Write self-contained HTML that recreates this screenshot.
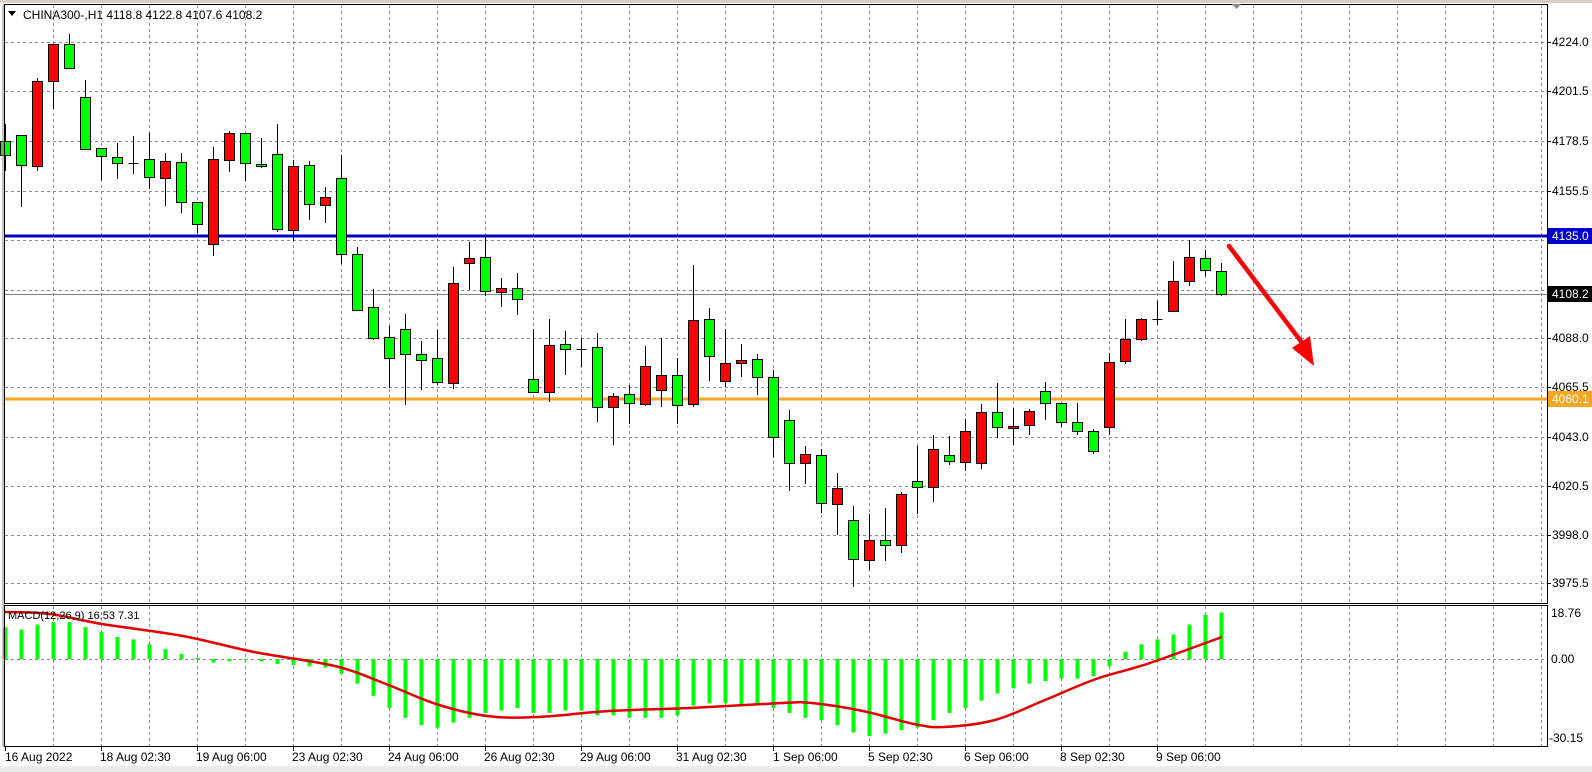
<!DOCTYPE html>
<html><head><meta charset="utf-8">
<style>
html,body{margin:0;padding:0;background:#fff;}
svg{display:block;font-family:"Liberation Sans",sans-serif;font-size:12px;}
</style></head>
<body>
<svg id="c" width="1592" height="772" viewBox="0 0 1592 772" xmlns="http://www.w3.org/2000/svg">
<rect x="0" y="0" width="1592" height="772" fill="#fff"/>
<rect x="0" y="0" width="1592" height="3" fill="#d4d0c8"/>
<rect x="0" y="766" width="1592" height="6" fill="#ececec"/>
<g id="grid" stroke="#8c8c8c" stroke-width="1" stroke-dasharray="3,3" fill="none"></g>
<g id="lines"></g>
<g id="candles"></g>
<g id="macd"></g>
<rect x="4.5" y="4.5" width="1543" height="599" fill="none" stroke="#000"/>
<rect x="4.5" y="605.5" width="1543" height="141" fill="none" stroke="#000"/>
<line x1="3" y1="4" x2="3" y2="747" stroke="#888"/>
<polygon points="8,11 16,11 12,16" fill="#000"/>
<text x="23" y="19" fill="#000">CHINA300-,H1  4118.8 4122.8 4107.6 4108.2</text>
<polygon points="1232,4 1241,4 1236.5,9" fill="#888"/>
<text x="8" y="619" fill="#000" font-size="11">MACD(12,26,9) 16.53 7.31</text>
<g fill="#000">
<text x="1552" y="46">4224.0</text>
<text x="1552" y="95">4201.5</text>
<text x="1552" y="145">4178.5</text>
<text x="1552" y="195">4155.5</text>
<text x="1552" y="342">4088.0</text>
<text x="1552" y="391">4065.5</text>
<text x="1552" y="441">4043.0</text>
<text x="1552" y="490">4020.5</text>
<text x="1552" y="539">3998.0</text>
<text x="1552" y="587">3975.5</text>
<text x="1551" y="617">18.76</text>
<text x="1551" y="663">0.00</text>
<text x="1549" y="742">-30.15</text>
</g>
<rect x="1548" y="228" width="44" height="16" fill="#0000c8"/>
<text x="1552" y="240" fill="#fff">4135.0</text>
<rect x="1548" y="286" width="44" height="16" fill="#000"/>
<text x="1552" y="298" fill="#fff">4108.2</text>
<rect x="1548" y="391" width="44" height="16" fill="#f5a623"/>
<text x="1552" y="403" fill="#fff">4060.1</text>
<g fill="#000">
<text x="5" y="761">16 Aug 2022</text>
<text x="100" y="761">18 Aug 02:30</text>
<text x="196" y="761">19 Aug 06:00</text>
<text x="292" y="761">23 Aug 02:30</text>
<text x="388" y="761">24 Aug 06:00</text>
<text x="484" y="761">26 Aug 02:30</text>
<text x="580" y="761">29 Aug 06:00</text>
<text x="676" y="761">31 Aug 02:30</text>
<text x="773" y="761">1 Sep 06:00</text>
<text x="868" y="761">5 Sep 02:30</text>
<text x="964" y="761">6 Sep 06:00</text>
<text x="1060" y="761">8 Sep 02:30</text>
<text x="1156" y="761">9 Sep 06:00</text>
</g>
<g id="ticks" stroke="#000"></g>
<line x1="1229" y1="246" x2="1306" y2="348" stroke="#f00" stroke-width="4.5" stroke-linecap="round"/>
<polygon points="1292,348 1314,366 1310,336" fill="#f00"/>
</svg>
<script>
var NS="http://www.w3.org/2000/svg";
function el(p,t,a){var e=document.createElementNS(NS,t);for(var k in a)e.setAttribute(k,a[k]);p.appendChild(e);return e;}
var g=document.getElementById('grid');
for(var k=1;k<=32;k++){var x=5+48*k+0.5;if(x>1546)break;el(g,'line',{x1:x,y1:5,x2:x,y2:603});el(g,'line',{x1:x,y1:606,x2:x,y2:746});}
[42,91,141,191,240,290,338,387,437,486,535,583].forEach(function(y){el(g,'line',{x1:5,y1:y+.5,x2:1547,y2:y+.5});el(g,'line',{x1:1547,y1:y+.5,x2:1551,y2:y+.5,'stroke-dasharray':'none',stroke:'#000'});});
el(g,'line',{x1:5,y1:659.5,x2:1547,y2:659.5});
var L=document.getElementById('lines');
el(L,'line',{x1:5,y1:294.5,x2:1547,y2:294.5,stroke:'#808080'});
el(L,'line',{x1:5,y1:236,x2:1547,y2:236,stroke:'#0000c8','stroke-width':3});
el(L,'line',{x1:5,y1:399,x2:1547,y2:399,stroke:'#f5a623','stroke-width':3});
var T=document.getElementById('ticks');
[5,101,197,293,389,485,581,677,773,869,965,1061,1157].forEach(function(x){el(T,'line',{x1:x+.5,y1:746,x2:x+.5,y2:751});});
var C=[
['G',141,155,124,171],['G',135,165,135,207],['R',81,166,78,171],['R',44,81,44,109],['G',44,68,34,68],
['G',97,149,80,149],['G',148,156,148,180],['G',157,163,143,179],['D',163,163,136,174],['G',159,177,133,189],
['R',161,178,153,206],['G',162,202,153,213],['G',202,224,202,233],['R',159,244,147,256],['R',133,160,131,172],
['G',133,163,133,181],['G',164,166,138,168],['G',154,229,124,232],['R',166,230,160,241],['G',165,204,161,220],
['R',197,205,187,223],['G',178,254,155,264],['G',254,310,247,311],['G',307,338,289,340],['G',337,358,326,388],
['G',329,354,314,405],['G',354,360,341,390],['G',358,382,330,385],['R',283,383,267,389],['R',258,263,242,290],
['G',257,291,236,296],['R',288,292,278,307],['G',288,299,273,315],['G',379,392,329,392],['R',345,392,319,402],
['G',344,349,331,375],['D',349,349,338,367],['G',347,407,333,422],['R',396,407,393,445],['G',394,403,385,424],
['R',366,404,346,406],['R',375,390,338,407],['G',375,405,358,424],['R',320,404,265,407],['G',319,356,308,381],
['R',363,381,329,387],['R',360,363,344,377],['G',359,377,354,395],['G',377,437,370,457],['G',420,463,410,491],
['R',454,463,446,484],['G',455,503,449,513],['R',488,504,473,535],['G',520,559,506,587],['R',540,560,514,570],
['G',540,545,508,561],['R',494,545,492,553],['G',481,487,446,514],['R',449,487,435,502],['G',455,461,436,465],
['R',431,462,419,471],['R',412,463,404,469],['G',412,427,383,438],['R',426,428,408,445],['R',411,425,409,435],
['G',391,403,382,420],['G',403,422,403,427],['G',422,431,403,435],['G',431,451,429,454],['R',362,427,353,435],
['R',339,361,319,364],['R',319,339,318,341],['D',319,319,301,325],['R',281,311,261,311],['R',257,281,240,286],
['G',258,270,250,276],['G',271,294,263,296]];
var cg=document.getElementById('candles');
C.forEach(function(c,i){var x=5+16*i+0.5;
 el(cg,'line',{x1:x,y1:c[3],x2:x,y2:c[4],stroke:'#000'});
 if(c[0]=='D'){el(cg,'line',{x1:x-5,y1:c[1]+.5,x2:x+5,y2:c[1]+.5,stroke:'#000'});}
 else{var h=Math.max(c[2]-c[1],2);el(cg,'rect',{x:x-5,y:c[1]+.5,width:10,height:h,fill:c[0]=='G'?'#00ff00':'#ff0000',stroke:'#000'});}
});
var M=[13,12,14,15,15,13,11,9,8,6,4,2,0.5,-1.5,-1,-0.5,-1,-2,-2.5,-3,-3.5,-6,-10,-15,-20,-24,-27,-28,-26,-24,-22,-21,-20,-22,-22,-21,-21,-23,-23,-24,-24,-24,-23,-19,-18,-18,-19,-19,-20,-22,-24,-25,-27,-30,-31.5,-30.5,-29,-28,-25,-22,-20,-17,-14,-12,-10,-9,-8,-8,-7,-3,3,6,8,10,14,18,19];
var mg=document.getElementById('macd');
M.forEach(function(v,i){var x=5+16*i;var y=659-v*2.45;el(mg,'rect',{x:x-1.5,y:Math.min(y,659),width:4,height:Math.abs(659-y),fill:'#00ff00'});});
var S=[[5,612],[50,614],[102,624],[183,636],[254,652],[335,666],[386,684],[436,704],[487,716],[538,717],[609,711],[690,708],[782,703],[812,703],[863,711],[914,724],[944,727],[995,720],[1045,700],[1096,679],[1147,664],[1222,637]];
var d='M'+S[0][0]+','+S[0][1];
for(var i=0;i<S.length-1;i++){var p0=S[i-1]||S[i],p1=S[i],p2=S[i+1],p3=S[i+2]||p2;
 d+=' C'+(p1[0]+(p2[0]-p0[0])/6)+','+(p1[1]+(p2[1]-p0[1])/6)+' '+(p2[0]-(p3[0]-p1[0])/6)+','+(p2[1]-(p3[1]-p1[1])/6)+' '+p2[0]+','+p2[1];}
el(mg,'path',{d:d,fill:'none',stroke:'#e00000','stroke-width':2.5,'stroke-linejoin':'round'});
</script>
</body></html>
